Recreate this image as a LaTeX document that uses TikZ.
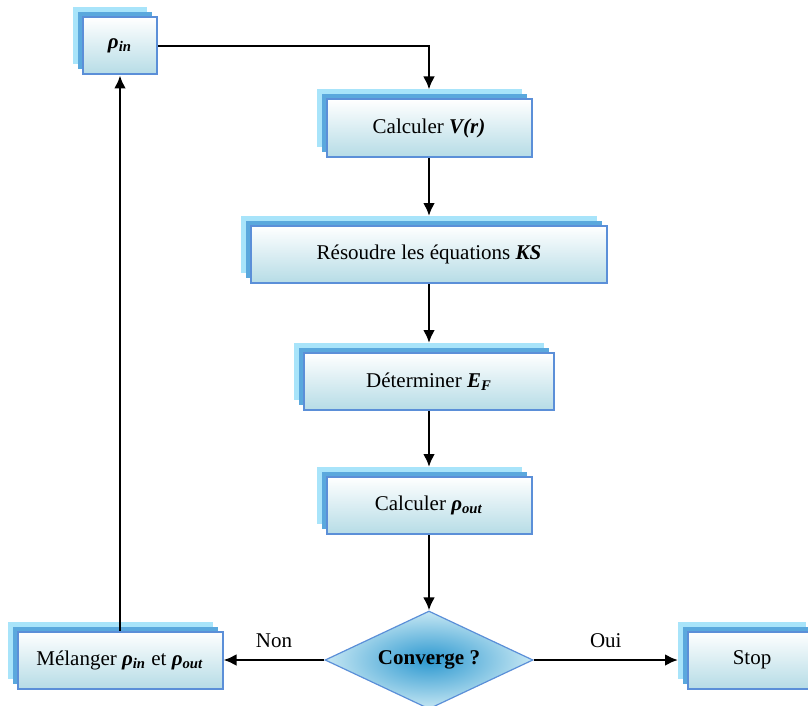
\documentclass[tikz,border=0pt]{standalone}
\usepackage{fontspec}
\setmainfont{Liberation Serif}
\usetikzlibrary{shapes.geometric,shadows,arrows.meta}
\definecolor{shadelight}{HTML}{A8E4FA}
\definecolor{shadedark}{HTML}{5AA8DD}
\definecolor{boxline}{HTML}{5B8FD8}
\definecolor{boxbottom}{HTML}{B6DCE6}
\definecolor{diacore}{HTML}{2C98D0}
\definecolor{diaouter}{HTML}{C6E7F3}
\newcommand{\rhoIn}{\textbf{\textit{ρ}}\textsubscript{\textbf{\textit{in}}}}
\newcommand{\rhoOut}{\textbf{\textit{ρ}}\textsubscript{\textbf{\textit{out}}}}
\tikzset{
  etape/.style={rectangle,draw=boxline,line width=1pt,top color=white,bottom color=boxbottom,
    minimum height=28.5pt,inner sep=0pt,
    copy shadow={shadow xshift=-5pt,shadow yshift=5pt,draw=none,fill=shadelight},
    copy shadow={shadow xshift=-2.5pt,shadow yshift=2.5pt,draw=none,fill=shadedark}},
  fleche/.style={line width=1.4pt,-{Latex[length=6.5pt,width=6pt]}},
}
\begin{document}
\fontsize{10.5}{12.6}\selectfont
\begin{tikzpicture}[x=0.5pt,y=-0.5pt]
        \useasboundingbox (0,0) rectangle (808,706);
        %% Etapes
        \node[etape,minimum width=37pt] (rhoin) at (120,46) {\rhoIn};
        \node[etape,minimum width=102.5pt] (vr) at (429,128) {Calculer \textbf{\textit{V(r)}}};
        \node[etape,minimum width=178pt] (ks) at (429,254.5) {Résoudre les équations \textbf{\textit{KS}}};
        \node[etape,minimum width=125pt] (ef) at (429,381.5) {Déterminer \textbf{\textit{E}}\textsubscript{\textbf{\textit{F}}}};
        \node[etape,minimum width=102.5pt] (rhoout) at (429,505.5) {Calculer \rhoOut};
        %% Test
        \node[diamond,aspect=2.12,minimum width=104pt,minimum height=49pt,inner sep=0pt,
              draw=boxline,line width=0.6pt,inner color=diacore,outer color=diaouter,
              font=\bfseries] (conv) at (429,660) {Converge ?};
        \node[etape,minimum width=102.5pt] (melange) at (120,660) {Mélanger \rhoIn{} et \rhoOut};
        \node[etape,minimum width=64pt] (stop) at (752,660) {Stop};
        %% Fleches
        \draw[fleche] (rhoin.east) -| ([yshift=4.5pt]vr.north);
        \draw[fleche] (vr.south) -- ([yshift=4.5pt]ks.north);
        \draw[fleche] (ks.south) -- ([yshift=4.5pt]ef.north);
        \draw[fleche] (ef.south) -- ([yshift=4.5pt]rhoout.north);
        \draw[fleche] (rhoout.south) -- (conv.north);
        \draw[fleche] (conv.west) -- (melange.east) node[midway,above=2pt] {Non};
        \draw[fleche] (conv.east) -- ([xshift=-4.5pt]stop.west) node[midway,above=2pt] {Oui};
        \draw[fleche] (melange.north) -- (rhoin.south);
    \end{tikzpicture}
\end{document}
